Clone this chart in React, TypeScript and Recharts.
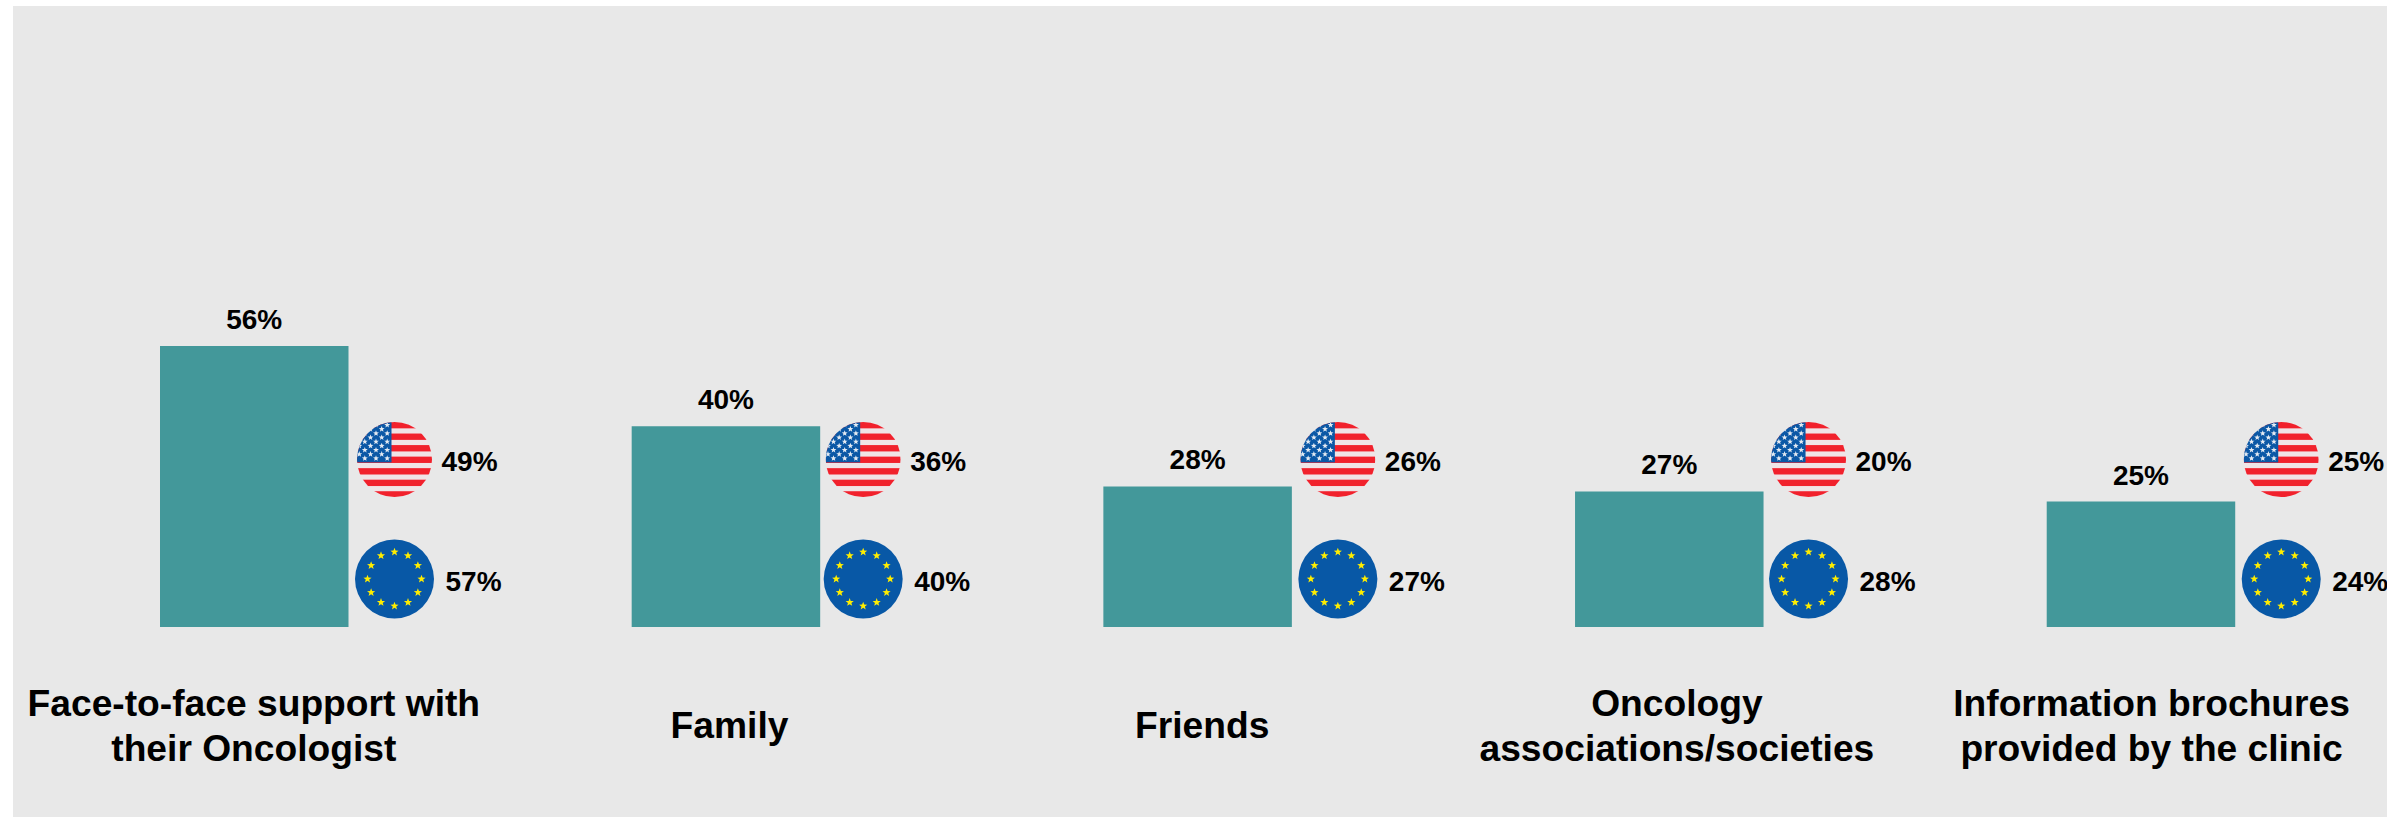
import React from 'react';
import { BarChart, Bar, XAxis, YAxis, LabelList } from 'recharts';

const categories = [
  'Face-to-face support with\ntheir Oncologist',
  'Family',
  'Friends',
  'Oncology\nassociations/societies',
  'Information brochures\nprovided by the clinic',
];
const totalValues = [56, 40, 28, 27, 25];
const usValues = [49, 36, 26, 20, 25];
const euValues = [57, 40, 27, 28, 24];

const data = categories.map((category, i) => ({
  category,
  total: totalValues[i],
  us: usValues[i],
  eu: euValues[i],
}));

const FONT = '"Liberation Sans", Arial, sans-serif';
const TEAL = '#43989a';

// kleine Korrekturen, die Labels sitzen im Original nicht exakt mittig
const tickShift = [0, 4, 5, 8, 11];
const flagShift = [0, -3, 0, -1, 0];

function starPoints(cx: number, cy: number, r: number) {
  const pts: string[] = [];
  for (let i = 0; i < 10; i++) {
    const rad = i % 2 === 0 ? r : r * 0.42;
    const a = (-90 + i * 36) * (Math.PI / 180);
    pts.push(`${(cx + rad * Math.cos(a)).toFixed(2)},${(cy + rad * Math.sin(a)).toFixed(2)}`);
  }
  return pts.join(' ');
}

const UsFlag = ({ cx, cy, id }: { cx: number; cy: number; id: string }) => {
  const r = 37.5;
  const stripe = (2 * r) / 13;
  const top = cy - r;
  const stars: React.ReactNode[] = [];
  for (let row = 0; row < 9; row++) {
    const startX = row % 2 === 0 ? cx - 7.3 : cx - 12.8;
    for (let col = 0; col < 4; col++) {
      const sx = startX - col * 11.2;
      const sy = cy - 34.5 + row * 4.17;
      stars.push(<polygon key={`${row}-${col}`} points={starPoints(sx, sy, 3.1)} fill="#e4eaf2" />);
    }
  }
  return (
    <g>
      <clipPath id={id}>
        <circle cx={cx} cy={cy} r={r} />
      </clipPath>
      <g clipPath={`url(#${id})`}>
        <rect x={cx - r} y={top} width={2 * r} height={2 * r} fill="#f0e4e6" />
        {Array.from({ length: 7 }, (_, i) => (
          <rect key={i} x={cx - r} y={top + i * 2 * stripe} width={2 * r} height={stripe * 1.1} fill="#f1212c" />
        ))}
        <rect x={cx - r} y={top} width={r - 3} height={stripe * 7} fill="#0b58a6" />
        {stars}
      </g>
    </g>
  );
};

const EuFlag = ({ cx, cy }: { cx: number; cy: number }) => (
  <g>
    <circle cx={cx} cy={cy} r={39.5} fill="#0858a6" />
    {Array.from({ length: 12 }, (_, i) => {
      const a = (i * 30 - 90) * (Math.PI / 180);
      return <polygon key={i} points={starPoints(cx + 27 * Math.cos(a), cy + 27 * Math.sin(a), 4.3)} fill="#ffed00" />;
    })}
  </g>
);

// Flaggen und Länderwerte rechts neben dem Balken
const FlagLabels = (props: any) => {
  const { x, y, width, height, index } = props;
  const base = y + height;
  const cx = x + width + 46 + flagShift[index];
  const usY = base - 167.5;
  const euY = base - 48;
  return (
    <g>
      <UsFlag cx={cx} cy={usY} id={`us-${index}`} />
      <EuFlag cx={cx} cy={euY} />
      <text x={cx + 47} y={usY + 2} dominantBaseline="central" fontFamily={FONT} fontWeight="bold" fontSize={28} fill="#000">
        {`${data[index].us}%`}
      </text>
      <text x={cx + 51} y={euY + 2} dominantBaseline="central" fontFamily={FONT} fontWeight="bold" fontSize={28} fill="#000">
        {`${data[index].eu}%`}
      </text>
    </g>
  );
};

const CategoryTick = (props: any) => {
  const { x, payload, index } = props;
  const lines = String(payload.value).split('\n');
  const midY = 725;
  return (
    <text textAnchor="middle" fontFamily={FONT} fontWeight="bold" fontSize={37.2} fill="#000">
      {lines.map((line, i) => (
        <tspan key={i} x={x + tickShift[index]} y={midY + 13 + (i - (lines.length - 1) / 2) * 45}>
          {line}
        </tspan>
      ))}
    </text>
  );
};

export default function App() {
  return (
    <div style={{ position: 'absolute', left: 0, top: 0, width: 2387, height: 817, background: '#fff' }}>
      <div style={{ position: 'absolute', left: 13, top: 6, width: 2374, height: 811, background: '#e8e8e8' }} />
      <div style={{ position: 'absolute', left: 0, top: 0 }}>
        <BarChart
          width={2387}
          height={817}
          data={data}
          margin={{ top: 125, right: 10.6, bottom: 0, left: 18 }}
          barCategoryGap={0}
        >
          <XAxis dataKey="category" height={190} axisLine={false} tickLine={false} interval={0} tick={<CategoryTick />} />
          <YAxis hide domain={[0, 100]} />
          <Bar dataKey="total" fill={TEAL} barSize={188.5} isAnimationActive={false}>
            <LabelList
              dataKey="total"
              position="top"
              offset={17}
              formatter={(v: any) => `${v}%`}
              style={{ fontFamily: FONT, fontWeight: 'bold', fontSize: 28, fill: '#000' }}
            />
            <LabelList dataKey="us" content={<FlagLabels />} />
          </Bar>
        </BarChart>
      </div>
    </div>
  );
}
